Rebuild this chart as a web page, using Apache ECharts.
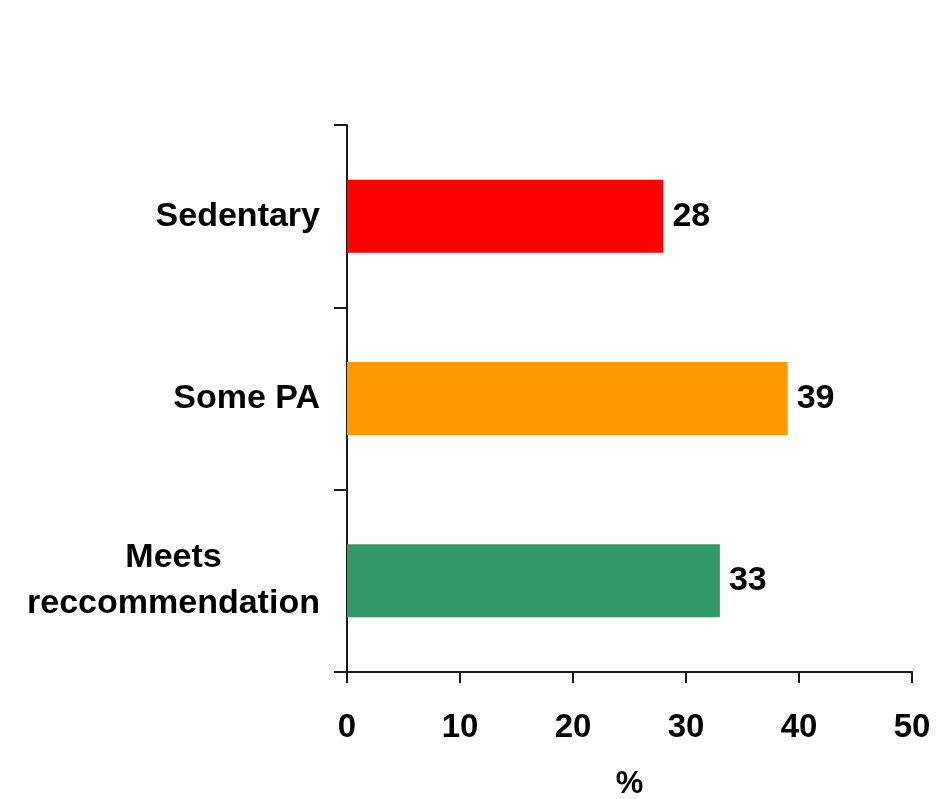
<!DOCTYPE html>
<html>
<head>
<meta charset="utf-8">
<style>
  html, body { margin: 0; padding: 0; background: #ffffff; }
  #chart { width: 936px; height: 799px; }
</style>
<script src="https://cdn.jsdelivr.net/npm/echarts@6/dist/echarts.min.js"></script>
</head>
<body>
<div id="chart"></div>
<script>
// Activity level categories, listed bottom to top
const categories = ['Meets\nreccommendation', 'Some PA', 'Sedentary'];
const values = [33, 39, 28];
const barColors = ['#339966', '#FF9900', '#FF0000'];
const xTicks = [0, 10, 20, 30, 40, 50];

const FONT = '"Liberation Sans", Arial, sans-serif';
const AXIS_COLOR = '#1a1a1a';
const LABEL_SIZE = 34;
const TICK_SIZE = 33;

// Width of the longest line in a multi-line category label, so its lines can be centred
function textWidth(str) {
  const ctx = document.createElement('canvas').getContext('2d');
  ctx.font = 'bold ' + LABEL_SIZE + 'px ' + FONT;
  return Math.ceil(ctx.measureText(str).width);
}

const chart = echarts.init(document.getElementById('chart'), null, { renderer: 'canvas' });

chart.setOption({
  backgroundColor: '#ffffff',
  animation: false,
  grid: { left: 347, right: 24, top: 125, bottom: 127, containLabel: false, outerBoundsMode: 'none' },
  xAxis: {
    type: 'value',
    min: xTicks[0],
    max: xTicks[xTicks.length - 1],
    interval: 10,
    name: '%',
    nameLocation: 'middle',
    nameGap: 97,
    nameTextStyle: { fontFamily: FONT, fontWeight: 'bold', fontSize: 31, color: '#000' },
    axisLine: { show: true, lineStyle: { color: AXIS_COLOR, width: 2 } },
    axisTick: { show: true, length: 11, lineStyle: { color: AXIS_COLOR, width: 2 } },
    splitLine: { show: false },
    axisLabel: {
      margin: 39,
      fontFamily: FONT, fontWeight: 'bold', fontSize: TICK_SIZE, color: '#000'
    }
  },
  yAxis: {
    type: 'category',
    data: categories,
    axisLine: { show: true, lineStyle: { color: AXIS_COLOR, width: 2 } },
    axisTick: { show: true, length: 13, lineStyle: { color: AXIS_COLOR, width: 2 } },
    axisLabel: {
      margin: 27,
      align: 'right',
      fontFamily: FONT, fontWeight: 'bold', fontSize: LABEL_SIZE, color: '#000',
      lineHeight: 46,
      formatter: function (v) {
        if (v.indexOf('\n') < 0) return v;
        const lines = v.split('\n');
        return lines.map(s => '{m|' + s + '}').join('\n');
      },
      rich: {
        m: {
          width: Math.max.apply(null, categories.join('\n').split('\n').map(textWidth)),
          align: 'center',
          fontFamily: FONT, fontWeight: 'bold', fontSize: LABEL_SIZE, color: '#000',
          lineHeight: 46
        }
      }
    }
  },
  series: [{
    type: 'bar',
    data: values.map((v, i) => ({ value: v, itemStyle: { color: barColors[i] } })),
    barWidth: '40%',
    label: {
      show: true,
      position: 'right',
      distance: 9,
      fontFamily: FONT, fontWeight: 'bold', fontSize: LABEL_SIZE, color: '#000'
    }
  }]
});
</script>
</body>
</html>
